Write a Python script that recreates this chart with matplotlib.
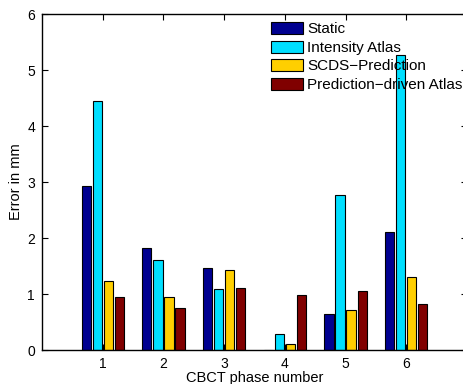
import numpy as np
import matplotlib
matplotlib.use("Agg")
import matplotlib.pyplot as plt

plt.rcParams['font.family'] = ['Liberation Sans', 'DejaVu Sans']

phases = [1, 2, 3, 4, 5, 6]
series_names = ["Static", "Intensity Atlas", "SCDS\u2212Prediction", "Prediction\u2212driven Atlas"]
static = [2.92, 1.82, 1.46, 0.0, 0.65, 2.10]
intensity_atlas = [4.44, 1.60, 1.09, 0.29, 2.76, 5.27]
scds_prediction = [1.23, 0.95, 1.42, 0.11, 0.71, 1.30]
prediction_driven = [0.94, 0.75, 1.11, 0.98, 1.05, 0.82]
colors = ["#000090", "#00DFFF", "#FFCF00", "#800000"]

fig = plt.figure(figsize=(4.64, 3.84), dpi=100)
ax = fig.add_axes([0.0905, 0.0885, 0.916, 0.875])

x = np.array(phases, dtype=float)
step = 0.182
width = 0.152
all_series = [static, intensity_atlas, scds_prediction, prediction_driven]
for i, (vals, name, col) in enumerate(zip(all_series, series_names, colors)):
    offs = (i - 1.5) * step
    ax.bar(x + offs, vals, width=width, color=col, edgecolor="black",
           linewidth=0.8, label=name, zorder=2)

ax.set_xlim(0, 7)
ax.set_ylim(0, 6)
ax.set_xticks(phases)
ax.set_yticks([0, 1, 2, 3, 4, 5, 6])
ax.tick_params(direction="in", length=4, width=0.8, labelsize=10,
               top=True, right=True, pad=5)
for sp in ax.spines.values():
    sp.set_linewidth(1.0)

ax.set_xlabel("CBCT phase number", fontsize=10.5, labelpad=0)
ax.set_ylabel("Error in mm", fontsize=10.5, labelpad=3)

leg = ax.legend(loc="upper left", bbox_to_anchor=(271 / 464, 1 - 22 / 384),
                bbox_transform=fig.transFigure, frameon=False, fontsize=11,
                handlelength=2.1, handleheight=0.85, handletextpad=0.25,
                labelspacing=0.27, borderpad=0, borderaxespad=0)
leg.set_zorder(5)

fig.savefig("out.png", dpi=100)
